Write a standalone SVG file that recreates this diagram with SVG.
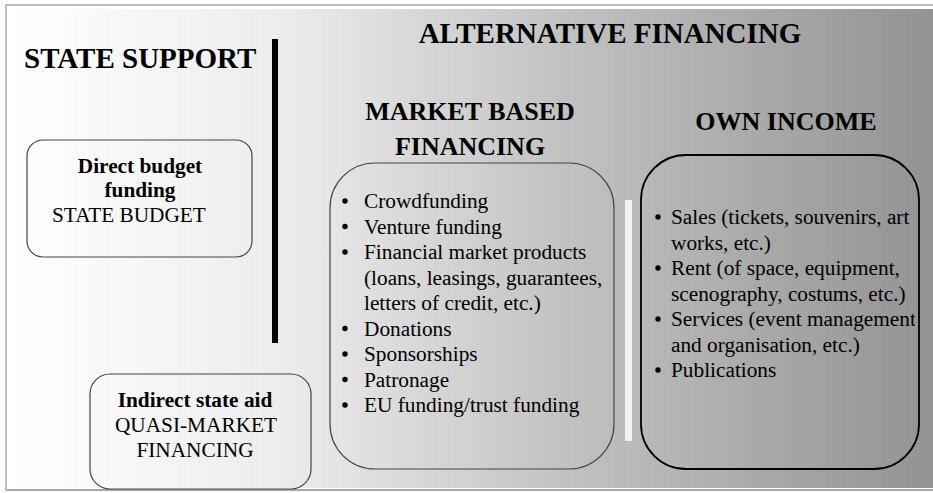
<svg xmlns="http://www.w3.org/2000/svg" width="933" height="493" viewBox="0 0 933 493">
<defs>
<linearGradient id="bg" x1="8" y1="0" x2="933" y2="0" gradientUnits="userSpaceOnUse">
<stop offset="0" stop-color="#ffffff"/>
<stop offset="0.3" stop-color="#ececec"/>
<stop offset="0.6" stop-color="#c2c2c2"/>
<stop offset="1" stop-color="#939393"/>
</linearGradient>
<clipPath id="clipOwn"><rect x="641" y="155" width="274" height="314"/></clipPath>
<style>
.h{font-weight:bold;font-size:29px}
.h2{font-weight:bold;font-size:26px}
.b{font-weight:bold;font-size:21.3px}
.t{font-size:21.3px}
.box{fill:none;stroke:#444;stroke-width:1.2}
.own{fill:none;stroke:#000;stroke-width:1.8}
.dot{fill:#000}
</style>
</defs>
<rect x="0" y="0" width="933" height="493" fill="#fff"/>
<rect x="8" y="9" width="925" height="479" fill="url(#bg)"/>
<line x1="5" y1="5" x2="933" y2="5" stroke="#bdbdbd" stroke-width="2"/>
<line x1="6" y1="5" x2="6" y2="491" stroke="#bdbdbd" stroke-width="2"/>
<line x1="7" y1="490" x2="933" y2="490" stroke="#a8a8a8" stroke-width="2"/>

<g font-family="Liberation Serif, Tinos, Times New Roman, DejaVu Serif, serif" fill="#000">
<g id="titles">
<text class="h" x="24" y="68">STATE SUPPORT</text>
<text class="h" x="610" y="43" text-anchor="middle">ALTERNATIVE FINANCING</text>
<text class="h2" x="470" y="120" text-anchor="middle">MARKET BASED</text>
<text class="h2" x="470" y="155" text-anchor="middle">FINANCING</text>
<text class="h2" x="786" y="130" text-anchor="middle">OWN INCOME</text>
</g>

<rect id="divider" x="272" y="39" width="6" height="304" fill="#000"/>
<rect id="divider2" x="625" y="200" width="7" height="241" fill="#f2f2f2"/>

<g id="direct">
<rect class="box" x="27" y="140" width="225" height="117" rx="16"/>
<text class="b" x="140" y="173" text-anchor="middle">Direct budget</text>
<text class="b" x="140" y="197" text-anchor="middle">funding</text>
<text class="t" x="52" y="222">STATE BUDGET</text>
</g>

<g id="indirect">
<rect class="box" x="90" y="374" width="221" height="115" rx="20"/>
<text class="b" x="195" y="407" text-anchor="middle">Indirect state aid</text>
<text class="t" x="196" y="432" text-anchor="middle">QUASI-MARKET</text>
<text class="t" x="195" y="457" text-anchor="middle">FINANCING</text>
</g>

<g id="market">
<rect class="box" x="330" y="163" width="284" height="306" rx="45"/>
<g class="dot">
<circle cx="345" cy="201" r="2.7"/>
<circle cx="345" cy="226.5" r="2.7"/>
<circle cx="345" cy="252" r="2.7"/>
<circle cx="345" cy="328.5" r="2.7"/>
<circle cx="345" cy="354" r="2.7"/>
<circle cx="345" cy="379.5" r="2.7"/>
<circle cx="345" cy="405" r="2.7"/>
</g>
<text class="t" x="364" y="208">Crowdfunding</text>
<text class="t" x="364" y="233.5">Venture funding</text>
<text class="t" x="364" y="259">Financial market products</text>
<text class="t" x="364" y="284.5">(loans, leasings, guarantees,</text>
<text class="t" x="364" y="310">letters of credit, etc.)</text>
<text class="t" x="364" y="335.5">Donations</text>
<text class="t" x="364" y="361">Sponsorships</text>
<text class="t" x="364" y="386.5">Patronage</text>
<text class="t" x="364" y="412">EU funding/trust funding</text>
</g>

<g id="own">
<rect class="own" x="641" y="155" width="278" height="314" rx="45"/>
<g class="dot">
<circle cx="658" cy="217" r="2.7"/>
<circle cx="658" cy="268" r="2.7"/>
<circle cx="658" cy="319" r="2.7"/>
<circle cx="658" cy="370" r="2.7"/>
</g>
<g clip-path="url(#clipOwn)">
<text class="t" x="671" y="224">Sales (tickets, souvenirs, art</text>
<text class="t" x="671" y="249.5">works, etc.)</text>
<text class="t" x="671" y="275">Rent (of space, equipment,</text>
<text class="t" x="671" y="300.5">scenography, costums, etc.)</text>
<text class="t" x="671" y="326">Services (event management</text>
<text class="t" x="671" y="351.5">and organisation, etc.)</text>
<text class="t" x="671" y="377">Publications</text>
</g>
</g>
</g>
</svg>
